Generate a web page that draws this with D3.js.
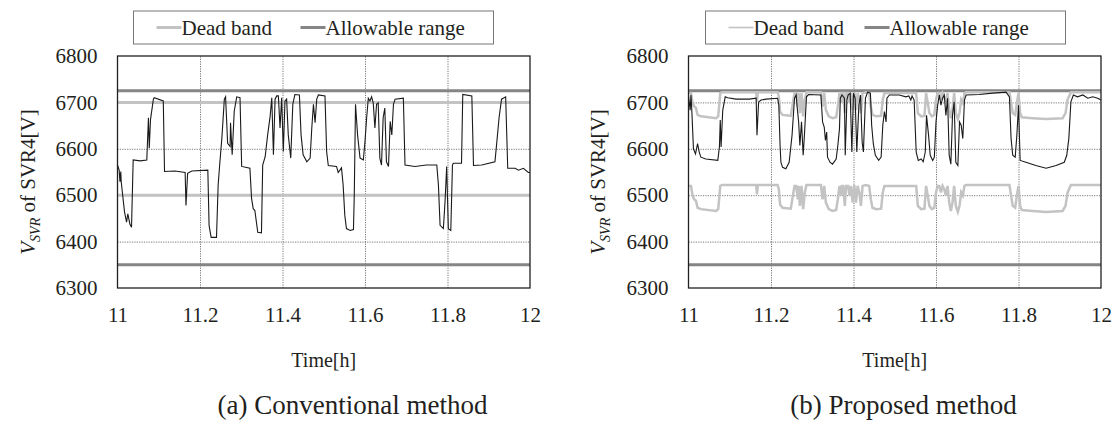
<!DOCTYPE html>
<html>
<head>
	<meta charset="utf-8">
	<title>SVR4 voltage</title>
	<style type="text/css">
		body{
			margin: 0;
			background-color: #ffffff;
		}
		svg text{
			font-family: "Liberation Serif", "Times New Roman", serif;
			fill: #231f20;
		}
	</style>
</head>
<body>
	<svg id="container" width="1116" height="423"></svg>

<script src="https://cdn.jsdelivr.net/npm/d3@7"></script>
<script type="text/javascript">
	// axis ticks
	let timeTicks = [11, 11.2, 11.4, 11.6, 11.8, 12]
	let voltTicks = [6300, 6400, 6500, 6600, 6700, 6800]
	let legendNames = ["Dead band", "Allowable range"]
	let captions = ["(a) Conventional method", "(b) Proposed method"]

	// allowable range (lower, upper) and fixed dead band of conventional method
	let allowable = [6350, 6725]
	let convDeadBand = [6500, 6700]

	// conventional method, [time h, voltage V]
	let convData = [
		[11.000,6565],[11.004,6554],[11.006,6529],[11.008,6551],[11.009,6529],[11.017,6464],[11.022,6442],[11.025,6460],
		[11.030,6438],[11.034,6431],[11.038,6576],[11.055,6574],[11.071,6576],[11.075,6667],[11.077,6601],[11.080,6663],
		[11.087,6707],[11.089,6710],[11.111,6703],[11.114,6551],[11.139,6552],[11.164,6549],[11.166,6478],[11.170,6547],
		[11.180,6552],[11.219,6554],[11.222,6435],[11.227,6409],[11.240,6409],[11.244,6522],[11.248,6569],[11.253,6623],
		[11.259,6707],[11.262,6712],[11.267,6612],[11.273,6605],[11.274,6656],[11.278,6587],[11.283,6681],[11.289,6712],
		[11.297,6710],[11.301,6562],[11.321,6558],[11.325,6493],[11.329,6471],[11.333,6467],[11.340,6420],[11.349,6419],
		[11.352,6565],[11.358,6583],[11.364,6630],[11.370,6670],[11.374,6710],[11.378,6587],[11.382,6707],[11.386,6714],
		[11.390,6714],[11.394,6645],[11.398,6710],[11.402,6594],[11.406,6703],[11.410,6707],[11.414,6630],[11.420,6580],
		[11.425,6696],[11.430,6717],[11.441,6716],[11.445,6630],[11.450,6587],[11.459,6572],[11.467,6580],[11.471,6645],
		[11.475,6696],[11.479,6656],[11.483,6707],[11.487,6716],[11.503,6714],[11.507,6594],[11.511,6564],[11.531,6562],
		[11.535,6549],[11.543,6559],[11.547,6522],[11.551,6457],[11.555,6428],[11.564,6424],[11.572,6426],[11.574,6500],
		[11.577,6696],[11.582,6630],[11.588,6580],[11.596,6576],[11.600,6616],[11.604,6667],[11.608,6709],[11.612,6703],
		[11.616,6712],[11.620,6699],[11.624,6645],[11.628,6696],[11.632,6699],[11.636,6580],[11.640,6565],[11.644,6667],
		[11.648,6688],[11.652,6572],[11.657,6562],[11.661,6659],[11.665,6630],[11.669,6696],[11.673,6707],[11.693,6709],
		[11.697,6565],[11.721,6562],[11.749,6565],[11.774,6565],[11.778,6522],[11.782,6435],[11.790,6428],[11.794,6486],
		[11.798,6562],[11.802,6428],[11.808,6424],[11.812,6565],[11.814,6569],[11.834,6569],[11.837,6717],[11.859,6714],
		[11.863,6564],[11.883,6565],[11.915,6572],[11.919,6609],[11.925,6667],[11.931,6707],[11.941,6712],[11.946,6558],
		[11.964,6558],[11.972,6554],[11.984,6558],[11.996,6549],[12.000,6549]
	]

	// proposed method, [time h, voltage V]
	let propData = [
		[11.000,6715],[11.004,6683],[11.006,6716],[11.008,6683],[11.012,6600],[11.017,6589],[11.022,6611],[11.026,6593],
		[11.030,6582],[11.042,6578],[11.071,6575],[11.075,6604],[11.077,6662],[11.079,6604],[11.083,6683],[11.089,6712],
		[11.095,6710],[11.115,6707],[11.147,6707],[11.164,6709],[11.166,6629],[11.170,6701],[11.176,6705],[11.188,6707],
		[11.216,6709],[11.219,6694],[11.222,6607],[11.224,6571],[11.228,6560],[11.236,6557],[11.244,6571],[11.251,6629],
		[11.257,6709],[11.261,6716],[11.263,6694],[11.267,6658],[11.270,6607],[11.274,6658],[11.278,6586],[11.281,6629],
		[11.286,6712],[11.291,6717],[11.321,6716],[11.325,6658],[11.329,6647],[11.332,6618],[11.335,6636],[11.337,6582],
		[11.343,6571],[11.349,6567],[11.358,6578],[11.362,6607],[11.366,6643],[11.368,6709],[11.372,6716],[11.378,6709],
		[11.380,6586],[11.384,6705],[11.387,6716],[11.392,6720],[11.396,6593],[11.400,6720],[11.404,6709],[11.408,6593],
		[11.413,6694],[11.417,6716],[11.421,6614],[11.424,6593],[11.429,6709],[11.434,6722],[11.441,6720],[11.444,6651],
		[11.448,6611],[11.453,6586],[11.461,6575],[11.467,6582],[11.471,6651],[11.475,6680],[11.479,6658],[11.481,6709],
		[11.487,6716],[11.511,6716],[11.527,6712],[11.534,6714],[11.539,6705],[11.542,6714],[11.547,6705],[11.552,6593],
		[11.557,6575],[11.564,6578],[11.569,6572],[11.574,6593],[11.577,6672],[11.582,6629],[11.586,6586],[11.592,6575],
		[11.596,6582],[11.600,6658],[11.604,6694],[11.608,6716],[11.612,6694],[11.616,6709],[11.620,6716],[11.624,6672],
		[11.628,6709],[11.632,6586],[11.636,6567],[11.640,6672],[11.644,6701],[11.648,6571],[11.653,6564],[11.657,6658],
		[11.661,6651],[11.665,6622],[11.669,6705],[11.673,6716],[11.705,6717],[11.737,6720],[11.770,6722],[11.778,6712],
		[11.782,6622],[11.786,6586],[11.792,6582],[11.796,6629],[11.800,6694],[11.804,6575],[11.818,6571],[11.842,6564],
		[11.867,6558],[11.891,6564],[11.911,6571],[11.917,6586],[11.922,6622],[11.927,6701],[11.933,6716],[11.943,6712],
		[11.956,6716],[11.968,6709],[11.980,6712],[11.992,6709],[12.000,6705]
	]

	// proposed method dead band, [time h, lower V, upper V]
	let propDeadBand = [
		[11.000,6520,6720],[11.006,6520,6720],[11.010,6499,6699],[11.014,6491,6691],[11.018,6488,6688],[11.022,6473,6673],
		[11.030,6470,6670],[11.067,6466,6666],[11.072,6470,6670],[11.075,6499,6699],[11.077,6520,6720],[11.081,6522,6722],
		[11.164,6522,6722],[11.166,6502,6702],[11.168,6522,6722],[11.216,6522,6722],[11.219,6513,6713],[11.222,6480,6680],
		[11.228,6473,6673],[11.248,6471,6671],[11.253,6499,6699],[11.257,6520,6720],[11.261,6520,6720],[11.265,6491,6691],
		[11.267,6520,6720],[11.270,6477,6677],[11.274,6520,6720],[11.278,6470,6670],[11.282,6506,6706],[11.286,6522,6722],
		[11.321,6522,6722],[11.325,6491,6691],[11.329,6520,6720],[11.333,6484,6684],[11.340,6470,6670],[11.349,6466,6666],
		[11.358,6468,6668],[11.362,6491,6691],[11.366,6520,6720],[11.370,6499,6699],[11.372,6520,6720],[11.375,6520,6720],
		[11.379,6477,6677],[11.382,6520,6720],[11.387,6520,6720],[11.390,6499,6699],[11.394,6520,6720],[11.398,6484,6684],
		[11.402,6522,6722],[11.406,6484,6684],[11.410,6520,6720],[11.414,6506,6706],[11.418,6477,6677],[11.422,6520,6720],
		[11.430,6522,6722],[11.438,6520,6720],[11.442,6491,6691],[11.446,6473,6673],[11.455,6470,6670],[11.467,6471,6671],
		[11.471,6506,6706],[11.475,6520,6720],[11.552,6520,6720],[11.556,6477,6677],[11.564,6470,6670],[11.572,6471,6671],
		[11.576,6520,6720],[11.580,6499,6699],[11.584,6477,6677],[11.590,6470,6670],[11.596,6473,6673],[11.600,6506,6706],
		[11.604,6520,6720],[11.608,6520,6720],[11.612,6506,6706],[11.616,6520,6720],[11.620,6513,6713],[11.624,6499,6699],
		[11.628,6520,6720],[11.632,6484,6684],[11.636,6466,6666],[11.640,6484,6684],[11.644,6520,6720],[11.648,6477,6677],
		[11.653,6464,6664],[11.657,6477,6677],[11.661,6506,6706],[11.665,6499,6699],[11.669,6520,6720],[11.673,6522,6722],
		[11.778,6522,6722],[11.782,6499,6699],[11.786,6477,6677],[11.792,6473,6673],[11.796,6499,6699],[11.800,6520,6720],
		[11.804,6477,6677],[11.808,6468,6668],[11.834,6466,6666],[11.867,6464,6664],[11.907,6466,6666],[11.914,6477,6677],
		[11.919,6506,6706],[11.927,6522,6722],[12.000,6522,6722]
	]

	let container = d3.select("#container")

	let deadColor = "#c3c3c3"
	let rangeColor = "#858585"
	let serif = "'Liberation Serif', 'Times New Roman', serif"

	function drawPanel(p) {
		let w = p.width, h = p.height
		let g = container.append("g").attr("transform", "translate(" + p.left + "," + p.top + ")")

		let x = d3.scaleLinear().domain([timeTicks[0], timeTicks[timeTicks.length - 1]]).range([0, w])
		let y = d3.scaleLinear().domain([voltTicks[0], voltTicks[voltTicks.length - 1]]).range([h, 0])

		// grid
		let xGrid = d3.axisBottom(x).tickValues(timeTicks.slice(1, -1)).tickSize(-h).tickFormat("")
		g.append("g").attr("transform", "translate(0," + h + ")").call(xGrid)
			.call(a => a.select(".domain").remove())
			.selectAll("line").attr("stroke", "#555").attr("stroke-width", 0.8).attr("stroke-dasharray", "1.2,1.2")
		let yGrid = d3.axisLeft(y).tickValues(voltTicks.slice(1, -1)).tickSize(-w).tickFormat("")
		g.append("g").call(yGrid)
			.call(a => a.select(".domain").remove())
			.selectAll("line").attr("stroke", "#555").attr("stroke-width", 0.8).attr("stroke-dasharray", "1.2,1.2")

		// tick labels
		let xAxis = d3.axisBottom(x).tickValues(timeTicks).tickSize(0).tickPadding(19).tickFormat(d => d)
		g.append("g").attr("transform", "translate(0," + h + ")").call(xAxis)
			.call(a => a.select(".domain").remove())
			.selectAll("text").style("font-family", serif).style("font-size", "21px").attr("fill", "#231f20")
		let yAxis = d3.axisLeft(y).tickValues(voltTicks).tickSize(0).tickPadding(20).tickFormat(d => d)
		g.append("g").call(yAxis)
			.call(a => a.select(".domain").remove())
			.selectAll("text").style("font-family", serif).style("font-size", "21px").attr("fill", "#231f20")

		// allowable range
		g.selectAll(".range").data(allowable).enter().append("line")
			.attr("x1", 0).attr("x2", w)
			.attr("y1", d => y(d)).attr("y2", d => y(d))
			.attr("stroke", rangeColor).attr("stroke-width", 3)

		// dead band
		if (p.band) {
			let lower = d3.line().x(d => x(d[0])).y(d => y(d[1]))
			let upper = d3.line().x(d => x(d[0])).y(d => y(d[2]))
			g.append("path").attr("d", lower(p.band)).attr("fill", "none").attr("stroke", deadColor).attr("stroke-width", 2.5)
			g.append("path").attr("d", upper(p.band)).attr("fill", "none").attr("stroke", deadColor).attr("stroke-width", 2.5)
		} else {
			g.selectAll(".dead").data(convDeadBand).enter().append("line")
				.attr("x1", 0).attr("x2", w)
				.attr("y1", d => y(d)).attr("y2", d => y(d))
				.attr("stroke", deadColor).attr("stroke-width", 3)
		}

		// voltage
		let line = d3.line().x(d => x(d[0])).y(d => y(d[1]))
		g.append("path").attr("d", line(p.data)).attr("fill", "none").attr("stroke", "#1a1a1a").attr("stroke-width", 1.1)

		// frame
		g.append("rect").attr("width", w).attr("height", h).attr("fill", "none").attr("stroke", "#231f20").attr("stroke-width", 1.3)

		// axis titles
		g.append("text").text("Time[h]").attr("x", w / 2).attr("y", h + 79).attr("text-anchor", "middle").attr("font-size", "20px")
		let yt = g.append("text").attr("text-anchor", "middle").attr("font-size", "21px")
			.attr("transform", "translate(" + p.titleX + "," + (h / 2 + 10) + ") rotate(-90)")
		yt.append("tspan").text("V").attr("font-style", "italic")
		yt.append("tspan").text("SVR").attr("font-style", "italic").attr("font-size", "14px").attr("dy", 5)
		yt.append("tspan").text(" of SVR4[V]").attr("dy", -5)

		g.append("text").text(p.caption).attr("x", p.captionX).attr("y", h + 126).attr("text-anchor", "middle").attr("font-size", "27px")

		// legend
		let lg = container.append("g").attr("transform", "translate(" + p.legend[0] + ",11)")
		lg.append("rect").attr("width", p.legend[1]).attr("height", 33).attr("fill", "#fff").attr("stroke", "#777").attr("stroke-width", 1)
		let offs = [p.legend[2], p.legend[3]]
		legendNames.forEach((name, i) => {
			lg.append("line").attr("x1", offs[i]).attr("x2", offs[i] + 25).attr("y1", 16.5).attr("y2", 16.5)
				.attr("stroke", i == 0 ? deadColor : rangeColor).attr("stroke-width", i == 0 ? p.legendDeadW : 3)
			lg.append("text").text(name).attr("x", offs[i] + 25).attr("y", 24).attr("font-size", "21px")
		})
	}

	drawPanel({left: 117.5, top: 56, width: 412.5, height: 232, data: convData, band: null,
		titleX: -83, caption: captions[0], captionX: 235, legend: [133.5, 360, 23, 167], legendDeadW: 3})
	drawPanel({left: 688.5, top: 56, width: 412.5, height: 232, data: propData, band: propDeadBand,
		titleX: -84, caption: captions[1], captionX: 215, legend: [705.5, 360, 23, 159], legendDeadW: 1.6})
</script>
</body>
</html>
